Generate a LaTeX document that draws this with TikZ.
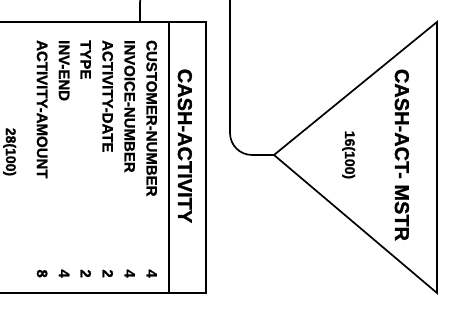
\documentclass[tikz,border=0pt]{standalone}
\usepackage{fontspec}
\setmainfont{Liberation Sans}[BoldFeatures={FakeBold=1.2}]
\usetikzlibrary{positioning,calc}
\tikzset{
  frame/.style  = {draw, line width=1.7pt, rectangle, inner sep=0pt},
  edge/.style   = {line width=1.7pt, line join=miter},
  link/.style   = {line width=1.7pt, rounded corners=#1},
  title/.style  = {font=\bfseries\fontsize{20}{20}\selectfont, rotate=-90, inner sep=0pt},
  field/.style  = {font=\bfseries\fontsize{15}{15}\selectfont, rotate=-90, inner sep=0pt},
  count/.style  = {font=\bfseries\fontsize{14}{14}\selectfont, rotate=-90, inner sep=0pt}
}

\begin{document}
\begin{tikzpicture}[x=1pt,y=1pt]
  \useasboundingbox (0,0) rectangle (464,328);
  % record box
  \node[frame, minimum width=212pt, minimum height=271pt] (act) at (100,170.5) {};
  \coordinate (split) at (169,0);
  \draw[edge] (split |- act.north) -- (split |- act.south);
  \node[title, anchor=base] (acttitle) at (178,182) {CASH-ACTIVITY};
  \foreach \name/\len/\base [count=\i] in {CUSTOMER-NUMBER/4/146.5,
      INVOICE-NUMBER/4/124.5, ACTIVITY-DATE/2/102.5, TYPE/2/80.5,
      INV-END/4/59, ACTIVITY-AMOUNT/8/37}
  {
    \node[field, anchor=base west] (f\i) at (\base,288) {\name};
    \node[field, anchor=base east] (l\i) at (\base,50) {\len};
  }
  \node[count, anchor=base] (actcount) at (6,176) {28(100)};

  % master triangle
  \coordinate (apex) at (274,173);
  \coordinate (btop) at (437,306);
  \coordinate (bbot) at (437,35);
  \draw[edge] (apex) -- (btop) -- (bbot) -- cycle;
  \node[title, anchor=base] (msttitle) at (395,173) {CASH-ACT- MSTR};
  \node[count, anchor=base] (mstcount) at (345,173) {16(100)};

  % connectors
  \coordinate (j1) at (140,0);
  \coordinate (up1) at (180,340);
  \draw[link=15pt] (j1 |- act.north) |- (up1);
  \coordinate (up2) at (230,345);
  \draw[link=22pt] (up2) |- (apex);
\end{tikzpicture}
\end{document}
